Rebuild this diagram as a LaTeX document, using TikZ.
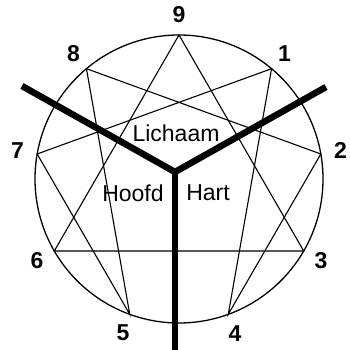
\documentclass[tikz,border=0pt]{standalone}
\usepackage{fontspec}
\setmainfont{Liberation Sans}
\usetikzlibrary{calc}
\tikzset{
  ring/.style={line width=1.3pt},
  figure/.style={line width=1.1pt,line join=miter},
  centreline/.style={line width=6.5pt,line join=miter},
  digit/.style={font=\fontsize{23}{23}\selectfont\bfseries,inner sep=0pt},
  centrelabel/.style={font=\fontsize{23}{23}\selectfont,inner sep=0pt}
}

\begin{document}
\begin{tikzpicture}[x=1pt,y=1pt]
  \useasboundingbox (0,0) rectangle (349,350);
  \coordinate (c) at (179,171);
  \draw[ring] (c) circle (144);
  % points on the circle and their numbers
  \foreach \i in {0,...,8} {
    \coordinate (p\i) at ($(c)+({90-40*\i}:144)$);
    \node[digit] (n\i) at ($(c)+({90-40*\i}:164)$) {\ifnum\i=0 9\else\i\fi};
  }
  \draw[figure] (p0) -- (p3) -- (p6) -- cycle;
  \draw[figure] (p1) -- (p4) -- (p2) -- (p8) -- (p5) -- (p7) -- cycle;
  % the three centres
  \coordinate (hub) at (175,178);
  \coordinate (armL) at (22,264);
  \coordinate (armR) at (326,263);
  \coordinate (stem) at (175,0);
  \draw[centreline] (armL) -- (hub) -- (armR);
  \draw[centreline] (hub) -- (stem);
  \node[centrelabel] (lichaam) at (176,217) {Lichaam};
  \node[centrelabel] (hoofd) at (133,157) {Hoofd};
  \node[centrelabel] (hart) at (208,157) {Hart};
\end{tikzpicture}
\end{document}
